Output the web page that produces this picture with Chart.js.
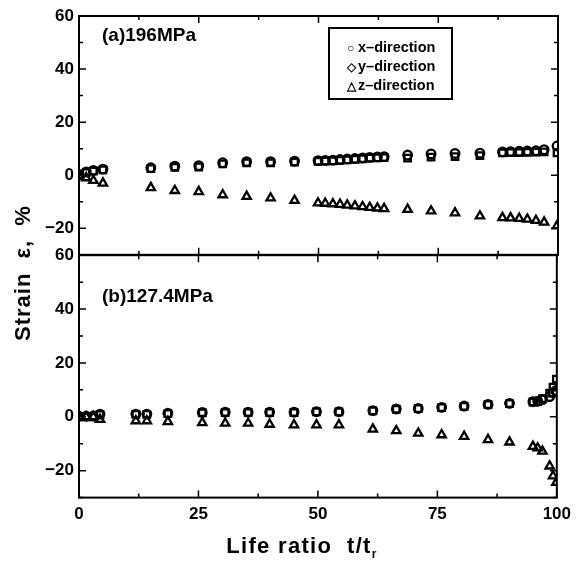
<!DOCTYPE html>
<html lang="en">
<head>
  <meta charset="UTF-8">
  <title>Strain vs life ratio</title>
  <script src="https://cdn.jsdelivr.net/npm/chart.js"></script>
  <style>
    * { box-sizing: border-box; margin: 0; padding: 0; }
    body { width: 578px; height: 579px; background: #fff; position: relative; overflow: hidden;
      font-family: 'Liberation Sans', Arial, sans-serif; font-weight: bold; color: #000; }
    .panel { position: absolute; left: 0; width: 578px; }
    #top { top: 0; height: 270px; }
    #bot { top: 240px; height: 339px; }
    .ytitle { position: absolute; left: 23px; top: 273px; font-size: 22px; letter-spacing: 1px; white-space: nowrap;
      transform: translate(-50%, -50%) rotate(-90deg); }
    .xtitle { position: absolute; left: 302px; top: 547px; font-size: 22px; letter-spacing: 1.3px;
      transform: translate(-50%, -50%); white-space: nowrap; }
    .xtitle sub { font-size: 12px; }
    .legend { position: absolute; left: 328px; top: 27px; width: 125px; height: 73px;
      border: 2px solid #000; font-size: 14.5px; padding: 9px 0 0 17px; line-height: 18px; }
    .legend span { display: inline-block; width: 11px; font-size: 12px; }
  </style>
</head>
<body>
  <div class="panel" id="top"><canvas id="chartA"></canvas></div>
  <div class="panel" id="bot"><canvas id="chartB"></canvas></div>
  <div class="ytitle">Strain&nbsp;&nbsp;ε,&nbsp; %</div>
  <div class="xtitle">Life ratio&nbsp;&nbsp;t/t<sub>r</sub></div>
  <div class="legend">
    <div><span>○</span>x–direction</div>
    <div><span>◇</span>y–direction</div>
    <div><span>△</span>z–direction</div>
  </div>
  <script>
    // (a) 196 MPa
    const lifeA = [0, 1.5, 3, 5, 15, 20, 25, 30, 35, 40, 45,
      49.9, 51.4, 53, 54.5, 56, 57.6, 59.2, 60.7, 62.3, 63.7,
      68.6, 73.5, 78.5, 83.7, 88.4, 90.1, 91.9, 93.6, 95.4, 97.1, 99.8];
    const xDirA = [0.3, 1.2, 1.8, 2.3, 2.8, 3.4, 3.6, 4.7, 5.1, 5.1, 5.3,
      5.5, 5.6, 5.7, 5.9, 6.1, 6.3, 6.5, 6.7, 6.9, 7.0,
      7.6, 8.0, 8.2, 8.3, 8.8, 8.9, 9.0, 9.1, 9.2, 9.6, 11.0];
    const yDirA = [0, 1.0, 1.5, 2.0, 2.5, 3.0, 3.1, 4.3, 4.7, 4.7, 4.9,
      5.2, 5.3, 5.4, 5.6, 5.8, 6.0, 6.2, 6.4, 6.5, 6.6,
      6.4, 6.8, 7.0, 7.4, 8.4, 8.5, 8.5, 8.6, 8.7, 8.8, 8.4];
    const zDirA = [-0.5, -1.0, -2.0, -3.0, -4.7, -5.8, -6.2, -7.4, -8.0, -8.6, -9.5,
      -10.5, -10.6, -10.8, -11.0, -11.3, -11.6, -11.9, -12.2, -12.4, -12.6,
      -12.9, -13.5, -14.2, -15.4, -16.0, -16.1, -16.3, -16.6, -17.1, -17.7, -19.1];

    // (b) 127.4 MPa
    const lifeB = [0, 1.5, 3, 4.4, 11.9, 14.2, 18.6, 25.8, 30.6, 35.4, 39.9, 45, 49.7, 54.4,
      61.5, 66.4, 71, 75.9, 80.6, 85.6, 90.1, 95, 96, 97, 98.5, 99.2, 99.9];
    const xDirB = [0.2, 0.2, 0.3, 1.0, 1.0, 1.0, 1.3, 1.6, 1.7, 1.7, 1.7, 1.7, 1.9, 1.9,
      2.3, 2.9, 3.1, 3.5, 4.0, 4.6, 5.0, 5.6, 5.8, 6.4, 7.5, 9.0, 9.8];
    const yDirB = [0, 0, 0, 0.8, 0.9, 0.9, 1.2, 1.5, 1.6, 1.6, 1.6, 1.6, 1.8, 1.8,
      2.2, 2.8, 3.0, 3.4, 3.9, 4.5, 4.9, 5.5, 5.6, 6.7, 8.8, 11.0, 14.0];
    const zDirB = [0, 0, 0, -1.0, -1.5, -1.5, -1.8, -2.2, -2.4, -2.4, -2.8, -3.0, -3.0, -3.0,
      -4.6, -5.2, -6.1, -6.7, -7.3, -8.5, -9.4, -11.0, -11.6, -12.8, -18.3, -22.0, -24.4];

    const xTicks = [0, 25, 50, 75, 100];
    const yTicks = [-20, 0, 20, 40, 60];
    const FONT = "'Liberation Sans', Arial, sans-serif";

    function pts(xs, ys) {
      return xs.map((x, i) => ({ x: x, y: ys[i] }));
    }

    // frame with inward ticks on all four sides, plus panel label
    const framePlugin = {
      id: 'frame',
      afterDraw(chart, args, opts) {
        const ctx = chart.ctx, a = chart.chartArea;
        const xs = chart.scales.x, ys = chart.scales.y;
        ctx.save();
        ctx.strokeStyle = '#000';
        ctx.lineWidth = 2;
        ctx.strokeRect(a.left, a.top, a.right - a.left, a.bottom - a.top);
        ctx.lineWidth = 1.5;
        ctx.beginPath();
        for (let v = 0; v <= 100; v += 12.5) {
          const px = xs.getPixelForValue(v);
          const len = v % 25 === 0 ? 7 : 4;
          ctx.moveTo(px, a.bottom); ctx.lineTo(px, a.bottom - len);
          ctx.moveTo(px, a.top); ctx.lineTo(px, a.top + len);
        }
        for (let v = -30; v <= 60; v += 10) {
          const py = ys.getPixelForValue(v);
          const len = v % 20 === 0 ? 7 : 4;
          ctx.moveTo(a.left, py); ctx.lineTo(a.left + len, py);
          ctx.moveTo(a.right, py); ctx.lineTo(a.right - len, py);
        }
        ctx.stroke();
        ctx.fillStyle = '#000';
        ctx.font = 'bold 19px ' + FONT;
        ctx.textBaseline = 'middle';
        ctx.fillText(opts.label, a.left + 23, a.top + opts.labelDy);
        ctx.restore();
      }
    };

    function makeChart(id, life, xd, yd, zd, label, labelDy, showX, pad) {
      const mk = { borderColor: '#000', backgroundColor: 'rgba(0,0,0,0)', pointBorderWidth: 2.3, showLine: false };
      return new Chart(document.getElementById(id), {
        type: 'scatter',
        data: {
          datasets: [
            Object.assign({ label: 'x-direction', data: pts(life, xd), pointStyle: 'circle', pointRadius: 4.3 }, mk),
            Object.assign({ label: 'y-direction', data: pts(life, yd), pointStyle: 'rect', pointRadius: 4.6 }, mk),
            Object.assign({ label: 'z-direction', data: pts(life, zd), pointStyle: 'triangle', pointRadius: 4.8 }, mk)
          ]
        },
        options: {
          responsive: true,
          maintainAspectRatio: false,
          animation: false,
          layout: { padding: pad },
          plugins: {
            legend: { display: false },
            tooltip: { enabled: false },
            frame: { label: label, labelDy: labelDy }
          },
          scales: {
            x: {
              type: 'linear', min: 0, max: 100,
              display: showX,
              afterBuildTicks: s => { s.ticks = xTicks.map(v => ({ value: v })); },
              grid: { display: false, drawTicks: false },
              border: { display: false },
              ticks: { color: '#000', padding: 7, font: { family: FONT, size: 17, weight: 'bold' } }
            },
            y: {
              min: -30, max: 60,
              afterBuildTicks: s => { s.ticks = yTicks.map(v => ({ value: v })); },
              afterFit: s => { s.width = 79; },
              grid: { display: false, drawTicks: false },
              border: { display: false },
              ticks: {
                color: '#000', padding: 5,
                font: { family: FONT, size: 17, weight: 'bold' },
                callback: v => (v < 0 ? '\u2212' + Math.abs(v) : v)
              }
            }
          }
        },
        plugins: [framePlugin]
      });
    }

    makeChart('chartA', lifeA, xDirA, yDirA, zDirA, '(a)196MPa', 20, false,
      { top: 16, right: 20, bottom: 6, left: 0 });
    makeChart('chartB', lifeB, xDirB, yDirB, zDirB, '(b)127.4MPa', 42, true,
      { top: 15, right: 20, bottom: 47, left: 0 });
  </script>
</body>
</html>
